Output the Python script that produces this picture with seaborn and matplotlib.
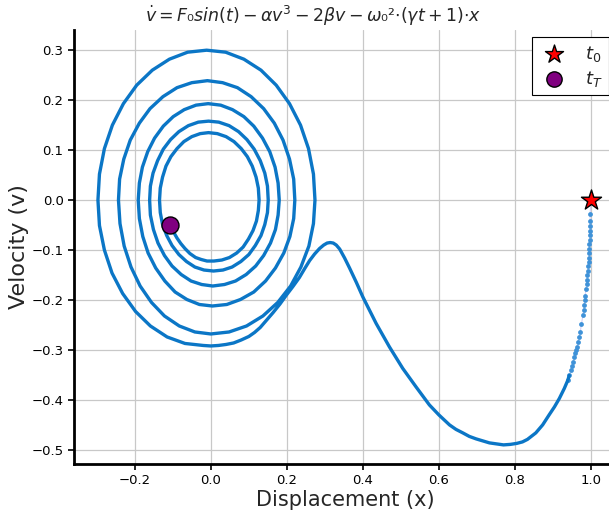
import numpy as np
import pandas as pd
import matplotlib
matplotlib.use("Agg")
import matplotlib.pyplot as plt
import seaborn as sns

# ---- data ----
# sparse start of the trajectory (individual samples visible)
tail_x = [1.000, 0.998, 0.998, 0.998, 0.998, 0.997, 0.997, 0.996, 0.996, 0.996, 0.995,
          0.994, 0.993, 0.992, 0.991, 0.989, 0.989, 0.987, 0.985, 0.984, 0.982, 0.981,
          0.979, 0.975, 0.972, 0.969, 0.967, 0.964, 0.961, 0.959, 0.956, 0.954, 0.950,
          0.947, 0.943, 0.939]
tail_v = [0.000, -0.027, -0.041, -0.052, -0.062, -0.070, -0.080, -0.088, -0.097, -0.106, -0.115,
          -0.124, -0.132, -0.141, -0.150, -0.159, -0.168, -0.178, -0.191, -0.201, -0.211, -0.221,
          -0.231, -0.248, -0.264, -0.274, -0.284, -0.294, -0.301, -0.307, -0.314, -0.324, -0.333,
          -0.341, -0.351, -0.361]

# dense part: U-shaped dip, hump and descent into the spiral
dip_x = [0.943, 0.939, 0.930, 0.917, 0.904, 0.890, 0.873, 0.855, 0.833, 0.820, 0.805,
         0.788, 0.770, 0.752, 0.733, 0.715, 0.698, 0.680, 0.663, 0.645, 0.628, 0.600,
         0.575, 0.540, 0.505, 0.470, 0.435, 0.400, 0.383, 0.365, 0.352, 0.339, 0.330,
         0.322, 0.314, 0.306, 0.297, 0.286, 0.273, 0.260, 0.247, 0.233, 0.216, 0.199,
         0.182, 0.164, 0.147, 0.130, 0.115, 0.100, 0.080, 0.060, 0.040, 0.020, 0.000]
dip_v = [-0.351, -0.361, -0.377, -0.397, -0.414, -0.430, -0.450, -0.466, -0.479, -0.484, -0.487,
         -0.489, -0.490, -0.488, -0.486, -0.482, -0.478, -0.473, -0.466, -0.459, -0.450, -0.430,
         -0.410, -0.374, -0.337, -0.294, -0.247, -0.194, -0.165, -0.136, -0.116, -0.098, -0.090,
         -0.086, -0.085, -0.086, -0.090, -0.097, -0.108, -0.121, -0.137, -0.155, -0.173, -0.190,
         -0.208, -0.225, -0.240, -0.255, -0.265, -0.273, -0.280, -0.286, -0.289, -0.291, -0.292]

# inward clockwise spiral, one quarter turn per row (bottom -> left -> top -> right ...)
spiral_x = [-0.020, -0.068, -0.115, -0.159, -0.198, -0.232, -0.260, -0.280, -0.293,
            -0.297, -0.293, -0.280, -0.259, -0.230, -0.195, -0.154, -0.109, -0.061,
            -0.011, 0.039, 0.087, 0.132, 0.172, 0.207, 0.236, 0.257, 0.270,
            0.274, 0.270, 0.258, 0.237, 0.210, 0.176, 0.137, 0.094, 0.048,
            0.000, -0.042, -0.083, -0.122, -0.156, -0.186, -0.210, -0.228, -0.239,
            -0.243, -0.240, -0.229, -0.212, -0.188, -0.160, -0.126, -0.089, -0.050,
            -0.009, 0.031, 0.070, 0.106, 0.139, 0.167, 0.190, 0.207, 0.218,
            0.221, 0.218, 0.208, 0.192, 0.170, 0.144, 0.113, 0.078, 0.042,
            0.004, -0.030, -0.063, -0.094, -0.121, -0.145, -0.165, -0.179, -0.188,
            -0.191, -0.188, -0.180, -0.166, -0.148, -0.125, -0.099, -0.070, -0.039,
            -0.007, 0.026, 0.057, 0.087, 0.113, 0.136, 0.155, 0.169, 0.177,
            0.180, 0.177, 0.170, 0.157, 0.139, 0.118, 0.093, 0.065, 0.036,
            0.005, -0.024, -0.052, -0.078, -0.102, -0.122, -0.139, -0.151, -0.159,
            -0.161, -0.159, -0.152, -0.140, -0.125, -0.106, -0.084, -0.059, -0.033,
            -0.006, 0.021, 0.048, 0.073, 0.095, 0.114, 0.130, 0.142, 0.149,
            0.151, 0.149, 0.142, 0.132, 0.117, 0.100, 0.079, 0.056, 0.032,
            0.007, -0.018, -0.042, -0.064, -0.084, -0.102, -0.116, -0.127, -0.133,
            -0.135, -0.133, -0.127, -0.118, -0.105, -0.089, -0.071, -0.050, -0.028,
            -0.006, 0.017, 0.040, 0.061, 0.080, 0.096, 0.109, 0.119, 0.125,
            0.127, 0.125, 0.120, 0.111, 0.099, 0.085, 0.068, 0.049, 0.029,
            0.008, -0.010, -0.025, -0.040, -0.055, -0.068, -0.079, -0.089, -0.098, -0.107]
spiral_v = [-0.291, -0.287, -0.274, -0.252, -0.223, -0.187, -0.146, -0.100, -0.051,
            0.000, 0.052, 0.103, 0.150, 0.193, 0.230, 0.260, 0.282, 0.296,
            0.300, 0.296, 0.282, 0.260, 0.230, 0.193, 0.150, 0.103, 0.052,
            0.000, -0.047, -0.092, -0.134, -0.172, -0.205, -0.232, -0.252, -0.264,
            -0.268, -0.264, -0.252, -0.232, -0.205, -0.172, -0.134, -0.092, -0.047,
            0.000, 0.042, 0.082, 0.120, 0.154, 0.183, 0.207, 0.225, 0.235,
            0.239, 0.235, 0.225, 0.207, 0.183, 0.154, 0.120, 0.082, 0.042,
            0.000, -0.037, -0.073, -0.106, -0.136, -0.162, -0.184, -0.199, -0.209,
            -0.212, -0.209, -0.199, -0.184, -0.162, -0.136, -0.106, -0.073, -0.037,
            0.000, 0.034, 0.066, 0.097, 0.124, 0.148, 0.167, 0.181, 0.190,
            0.193, 0.190, 0.181, 0.167, 0.148, 0.124, 0.097, 0.066, 0.034,
            0.000, -0.030, -0.059, -0.086, -0.111, -0.132, -0.149, -0.162, -0.169,
            -0.172, -0.169, -0.162, -0.149, -0.132, -0.111, -0.086, -0.059, -0.030,
            0.000, 0.028, 0.054, 0.079, 0.102, 0.121, 0.137, 0.149, 0.156,
            0.158, 0.156, 0.149, 0.137, 0.121, 0.102, 0.079, 0.054, 0.028,
            0.000, -0.025, -0.049, -0.071, -0.091, -0.109, -0.123, -0.134, -0.140,
            -0.142, -0.140, -0.134, -0.123, -0.109, -0.091, -0.071, -0.049, -0.025,
            0.000, 0.024, 0.046, 0.068, 0.087, 0.103, 0.117, 0.127, 0.133,
            0.135, 0.133, 0.127, 0.117, 0.103, 0.087, 0.068, 0.046, 0.024,
            0.000, -0.021, -0.042, -0.061, -0.078, -0.094, -0.106, -0.115, -0.120,
            -0.122, -0.122, -0.119, -0.115, -0.107, -0.097, -0.087, -0.076, -0.064, -0.050]

start_x, start_v = [1.0], [0.0]
end_x, end_v = [-0.107], [-0.050]

x_ticks = [-0.2, 0.0, 0.2, 0.4, 0.6, 0.8, 1.0]
y_ticks = [-0.5, -0.4, -0.3, -0.2, -0.1, 0.0, 0.1, 0.2, 0.3]

title = r"$\dot{v} = F₀sin(t) - \alpha v^3 - 2\beta v - \omega₀²{\cdot}(\gamma t + 1){\cdot}x$"

# ---- plot ----
sns.set_style("whitegrid")
plt.rcParams["font.family"] = ["DejaVu Sans"]

fig = plt.figure(figsize=(6.09, 5.12), dpi=100)
ax = fig.add_axes([0.1215, 0.094, 0.890, 0.847])

line_col = "#0b76c6"
tail = pd.DataFrame({"x": tail_x, "v": tail_v})
body = pd.DataFrame({"x": dip_x + spiral_x, "v": dip_v + spiral_v})

sns.lineplot(data=tail, x="x", y="v", sort=False, estimator=None, ax=ax,
             color="#b9b4f0", lw=0.8, alpha=0.6)
sns.scatterplot(data=tail, x="x", y="v", ax=ax, color="#3f92d8", s=12,
                linewidth=0, zorder=3)
line_ax = sns.lineplot(data=body, x="x", y="v", sort=False, estimator=None, ax=ax,
                       color=line_col, lw=2.4, zorder=3)
for ln in ax.lines:
    ln.set_solid_joinstyle("round")
    ln.set_solid_capstyle("round")

sns.scatterplot(x=start_x, y=start_v, ax=ax, marker="*", s=230, color="red",
                edgecolor="black", linewidth=1.0, zorder=5, label=r"$t_0$")
sns.scatterplot(x=end_x, y=end_v, ax=ax, marker="o", s=150, color="purple",
                edgecolor="black", linewidth=1.0, zorder=5, label=r"$t_T$")

ax.set_xlim(-0.36, 1.066)
ax.set_ylim(-0.528, 0.34)
ax.set_xticks(x_ticks)
ax.set_yticks(y_ticks)
ax.set_xticklabels([f"{t:.1f}".replace("-", "\u2212") for t in x_ticks])
ax.set_yticklabels([f"{t:.1f}".replace("-", "\u2212") for t in y_ticks])
ax.grid(True, color="#c8c8c8", lw=0.9)
ax.tick_params(axis="both", direction="out", length=4, width=1.2, colors="black",
               labelsize=9.5, left=True, bottom=True)
for side in ["top", "right"]:
    ax.spines[side].set_visible(False)
for side in ["left", "bottom"]:
    ax.spines[side].set_visible(True)
    ax.spines[side].set_color("black")
    ax.spines[side].set_linewidth(2.0)

ax.set_xlabel("Displacement (x)", fontsize=15, labelpad=2)
ax.set_ylabel("Velocity (v)", fontsize=16, labelpad=2)
ax.set_title(title, fontsize=12.5, pad=6, x=0.441)

leg = ax.legend(loc="upper right", fontsize=13, frameon=True, fancybox=False,
                edgecolor="black", framealpha=1, borderpad=0.35, handlelength=1.8,
                handletextpad=0.8, labelspacing=0.3, borderaxespad=0.4,
                markerscale=0.9)
leg.get_frame().set_linewidth(0.8)

fig.savefig("out.png", dpi=100)
